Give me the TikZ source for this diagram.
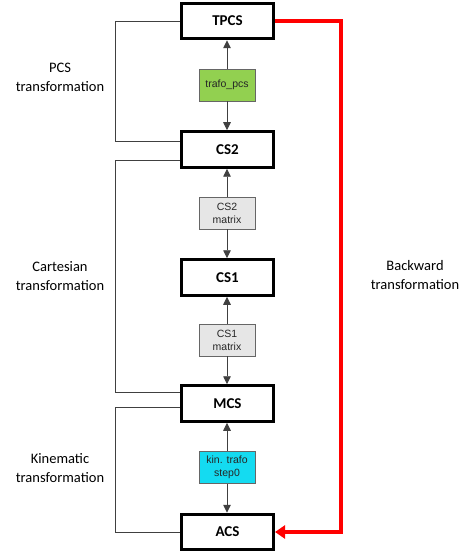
\documentclass[tikz,border=0pt]{standalone}
\usepackage{fontspec}
\setmainfont{Carlito}
\newfontfamily\smallfont{Liberation Sans}
\usetikzlibrary{arrows.meta}
\definecolor{boxgreen}{HTML}{92D050}
\definecolor{boxgray}{HTML}{E6E6E6}
\definecolor{boxcyan}{HTML}{14DBF1}
\definecolor{linegray}{HTML}{404040}
\tikzset{
  bigbox/.style={draw=black, line width=3pt, fill=white, minimum width=92pt, minimum height=35.5pt, inner sep=0pt, font=\fontsize{15}{18}\selectfont\bfseries},
  smallbox/.style={draw=linegray!80, line width=0.9pt, minimum width=56pt, minimum height=32pt, inner sep=0pt, align=center, text=black!85, font=\smallfont\fontsize{10.5}{13}\selectfont},
  conn/.style={draw=linegray, line width=0.9pt, -{Triangle[length=8pt,width=7.5pt]}},
  bracket/.style={draw=linegray, line width=0.9pt},
  redline/.style={draw=red, line width=3.5pt, -{Triangle[length=10pt,width=13pt]}},
  lbl/.style={align=center, font=\fontsize{14.5}{19}\selectfont, inner sep=0pt}
}
\begin{document}
\begin{tikzpicture}[x=1pt,y=-1pt]
\useasboundingbox (0,0) rectangle (467,553);
% big boxes
\node[bigbox] (TPCS) at (227.5,21) {TPCS};
\node[bigbox] (CS2) at (227.5,149.5) {CS2};
\node[bigbox] (CS1) at (227.5,277.5) {CS1};
\node[bigbox] (MCS) at (227.5,403.5) {MCS};
\node[bigbox] (ACS) at (227.5,532) {ACS};
% small boxes
\node[smallbox, fill=boxgreen] (trafo) at (227,85) {trafo\_pcs};
\node[smallbox, fill=boxgray] (cs2m) at (227,213) {CS2\\matrix};
\node[smallbox, fill=boxgray] (cs1m) at (227,340) {CS1\\matrix};
\node[smallbox, fill=boxcyan] (kin) at (227,467.5) {kin. trafo\\step0};
% connectors
\draw[conn] (trafo.north) -- (trafo.north|-TPCS.south);
\draw[conn] (trafo.south) -- (trafo.south|-CS2.north);
\draw[conn] (cs2m.north) -- (cs2m.north|-CS2.south);
\draw[conn] (cs2m.south) -- (cs2m.south|-CS1.north);
\draw[conn] (cs1m.north) -- (cs1m.north|-CS1.south);
\draw[conn] (cs1m.south) -- (cs1m.south|-MCS.north);
\draw[conn] (kin.north) -- (kin.north|-MCS.south);
\draw[conn] (kin.south) -- (kin.south|-ACS.north);
% brackets
\draw[bracket] (TPCS.west) -- ++(-65,0) |- ([yshift=8.5pt]CS2.west);
\draw[bracket] ([yshift=-10.5pt]CS2.west) -- ++(-65,0) |- ([yshift=11.5pt]MCS.west);
\draw[bracket] ([yshift=-3.5pt]MCS.west) -- ++(-65,0) |- (ACS.west);
% red backward
\draw[redline] (TPCS.east) -- ++(66,0) |- (ACS.east);
% labels
\node[lbl] (l1) at (60,77.5) {PCS\\transformation};
\node[lbl] (l2) at (60,276.5) {Cartesian\\transformation};
\node[lbl] (l3) at (60,468.5) {Kinematic\\transformation};
\node[lbl] (l4) at (415,275.5) {Backward\\transformation};
\end{tikzpicture}
\end{document}
